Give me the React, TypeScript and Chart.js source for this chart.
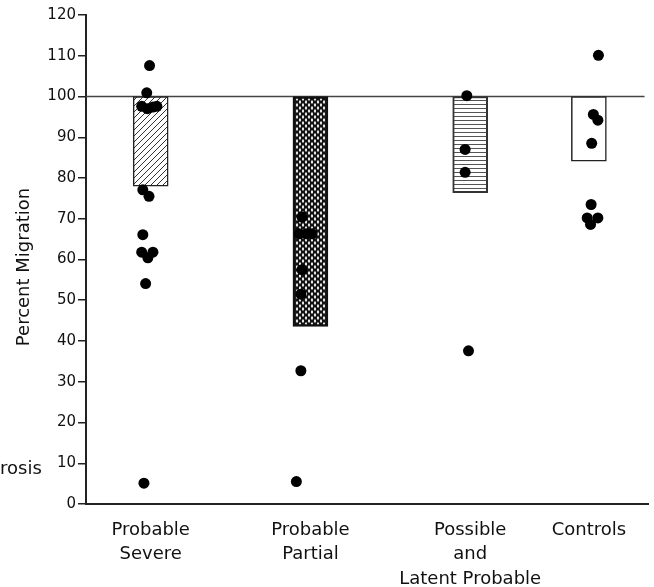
import React, { useEffect, useRef } from "react";
import { Chart, registerables } from "chart.js";

Chart.register(...registerables);

// ---- data ----
const categoryLabels: string[][] = [
  ["Probable", "Severe"],
  ["Probable", "Partial"],
  ["Possible", "and", "Latent Probable"],
  ["Controls"],
];
const categoryPos = [11.5, 39.9, 68.3, 89.4];
const barBottoms = [78, 43.6, 76.4, 84.1];
const barTop = 100;
const referenceLevel = 100;

const severeX = [11.3, 10.8, 9.9, 10.9, 11.9, 12.6, 10.1, 11.2, 10.1, 9.9, 11.9, 11.0, 10.6, 10.3];
const severeY = [107.6, 100.9, 97.6, 97.0, 97.4, 97.6, 77.1, 75.5, 66.1, 61.8, 61.8, 60.4, 54.1, 5.1];
const partialX = [38.4, 37.9, 39.2, 40.2, 38.4, 38.2, 38.2, 37.4];
const partialY = [70.4, 66.3, 66.3, 66.3, 57.5, 51.5, 32.7, 5.5];
const possibleX = [67.7, 67.4, 67.4, 68.0];
const possibleY = [100.2, 87.0, 81.4, 37.6];
const controlsX = [91.1, 90.2, 91.0, 89.9, 89.8, 89.1, 91.0, 89.7];
const controlsY = [110.1, 95.6, 94.2, 88.5, 73.5, 70.2, 70.2, 68.6];

const yMin = 0;
const yMax = 120;
const yStep = 10;
const xMin = 0;
const xMax = 100;

const yTitle = "Percent Migration";
const sideNote = "rosis";

const FONT = "'DejaVu Sans', sans-serif";

function makePattern(kind: string): CanvasPattern | string {
  const c = document.createElement("canvas");
  const g = c.getContext("2d")!;
  if (kind === "diag") {
    c.width = 6; c.height = 6;
    g.fillStyle = "#fff"; g.fillRect(0, 0, 6, 6);
    g.strokeStyle = "#333"; g.lineWidth = 1;
    g.beginPath();
    g.moveTo(0, 6); g.lineTo(6, 0);
    g.moveTo(-3, 3); g.lineTo(3, -3);
    g.moveTo(3, 9); g.lineTo(9, 3);
    g.stroke();
  } else if (kind === "cross") {
    c.width = 6; c.height = 6;
    g.fillStyle = "#111"; g.fillRect(0, 0, 6, 6);
    g.fillStyle = "#eeeeee";
    const spots = [[0, 0], [6, 0], [0, 6], [6, 6], [3, 3]];
    for (const [x, y] of spots) {
      g.beginPath();
      g.ellipse(x, y, 1.1, 1.7, 0, 0, Math.PI * 2);
      g.fill();
    }
  } else if (kind === "horiz") {
    c.width = 4; c.height = 4;
    g.fillStyle = "#fff"; g.fillRect(0, 0, 4, 4);
    g.fillStyle = "#555"; g.fillRect(0, 0, 4, 1);
  } else {
    return "#ffffff";
  }
  return g.createPattern(c, "repeat")!;
}

const textPlugin = {
  id: "sideText",
  afterDraw(chart: any) {
    const ctx = chart.ctx;
    ctx.save();
    ctx.fillStyle = "#111";
    ctx.font = `18px ${FONT}`;
    ctx.textAlign = "center";
    ctx.textBaseline = "middle";
    ctx.translate(24, 267);
    ctx.rotate(-Math.PI / 2);
    ctx.fillText(yTitle, 0, 0);
    ctx.restore();
    ctx.save();
    ctx.fillStyle = "#111";
    ctx.font = `18px ${FONT}`;
    ctx.textAlign = "left";
    ctx.textBaseline = "alphabetic";
    ctx.fillText(sideNote, 0, 474);
    ctx.restore();
  },
};

export default function App() {
  const ref = useRef<HTMLCanvasElement>(null);
  useEffect(() => {
    const canvas = ref.current!;
    const fills = [makePattern("diag"), makePattern("cross"), makePattern("horiz"), makePattern("none")];
    const zip = (xs: number[], ys: number[]) => xs.map((x, i) => ({ x, y: ys[i] }));
    const points = [
      ...zip(severeX, severeY),
      ...zip(partialX, partialY),
      ...zip(possibleX, possibleY),
      ...zip(controlsX, controlsY),
    ];
    const chart = new Chart(canvas, {
      type: "bar",
      data: {
        datasets: [
          {
            type: "scatter",
            data: points,
            backgroundColor: "#000",
            borderColor: "#000",
            borderWidth: 0,
            pointRadius: 5.5,
            pointHoverRadius: 5.5,
            order: 0,
          } as any,
          {
            type: "bar",
            data: categoryPos.map((x, i) => ({ x, y: [barBottoms[i], barTop] })),
            backgroundColor: fills as any,
            borderColor: ["#222", "#111", "#333", "#222"],
            borderWidth: [1.5, 2.5, 2, 1.5],
            borderSkipped: false,
            barThickness: 35,
            order: 1,
          } as any,
          {
            type: "line",
            data: [
              { x: xMin, y: referenceLevel },
              { x: 99.3, y: referenceLevel },
            ],
            borderColor: "#444",
            borderWidth: 1.5,
            pointRadius: 0,
            order: 2,
          } as any,
        ],
      },
      options: {
        animation: false,
        responsive: false,
        events: [],
        layout: { padding: { left: 0, right: 4, top: 15, bottom: 0 } },
        plugins: { legend: { display: false }, tooltip: { enabled: false } },
        scales: {
          x: {
            type: "linear",
            min: xMin,
            max: xMax,
            offset: false,
            afterFit: (s: any) => { s.height = 83; },
            afterBuildTicks: (s: any) => { s.ticks = categoryPos.map((v) => ({ value: v })); },
            grid: { display: false, drawTicks: false },
            border: { display: true, color: "#222", width: 2 },
            ticks: {
              autoSkip: false,
              maxRotation: 0,
              padding: 14,
              color: "#111",
              font: { family: FONT, size: 18, lineHeight: 1.36 },
              callback: (v: any) => categoryLabels[categoryPos.indexOf(v)] ?? "",
            },
          },
          y: {
            type: "linear",
            min: yMin,
            max: yMax,
            afterFit: (s: any) => { s.width = 86; },
            grid: { display: true, drawOnChartArea: false, drawTicks: true, tickLength: 8, color: "#222", lineWidth: 1.5 },
            border: { display: true, color: "#222", width: 2 },
            ticks: {
              stepSize: yStep,
              padding: 2,
              color: "#111",
              font: { family: FONT, size: 15 },
            },
          },
        },
      } as any,
      plugins: [textPlugin],
    });
    return () => chart.destroy();
  }, []);
  return (
    <div style={{ position: "fixed", left: 0, top: 0, width: 654, height: 587, background: "#fff" }}>
      <canvas ref={ref} width={654} height={587} />
    </div>
  );
}
